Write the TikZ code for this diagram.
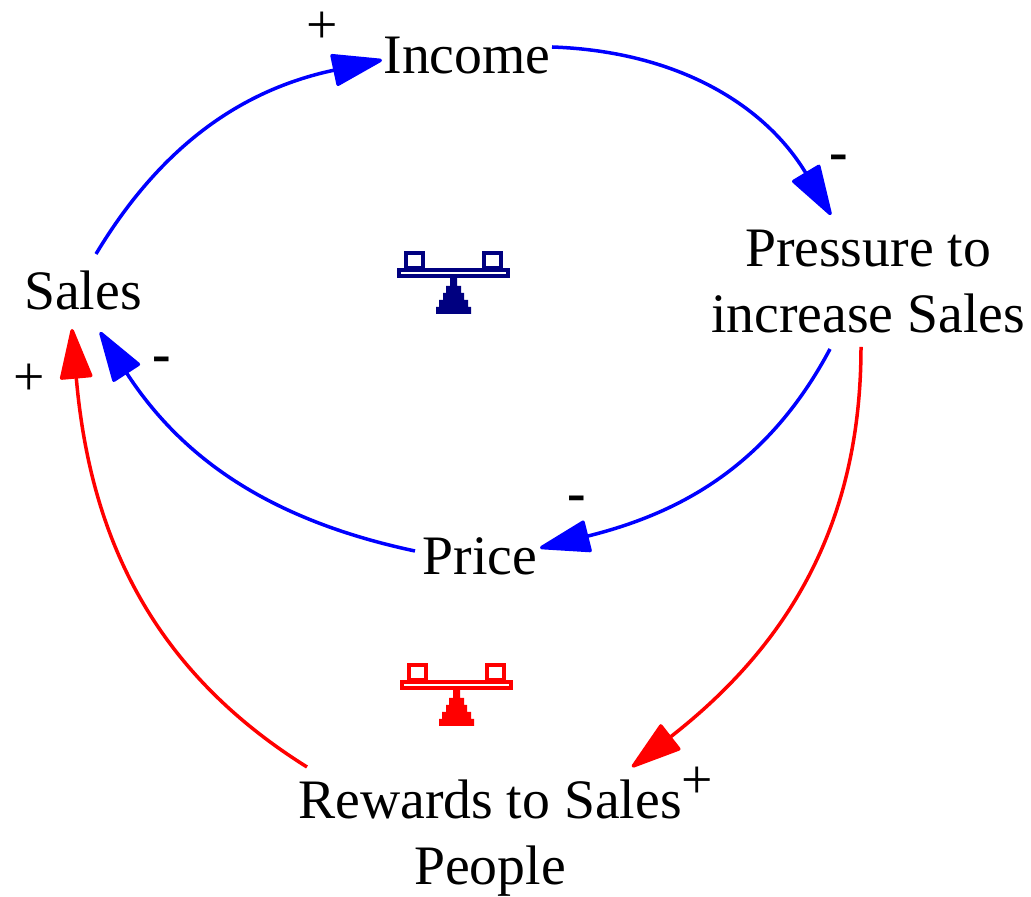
\documentclass[tikz,border=0pt]{standalone}
\usepackage{fontspec}
\setmainfont{Liberation Serif}
\usetikzlibrary{positioning, arrows.meta, calc}
\definecolor{myBlue}{RGB}{0,0,255}
\definecolor{myRed}{RGB}{255,0,0}
\definecolor{myNavy}{RGB}{0,0,128}

\begin{document}
\begin{tikzpicture}[
  x=0.02cm, y=0.02cm,
  var/.style={font=\fontsize{31.7}{37.6}\selectfont, align=center, inner sep=0pt},
  sign/.style={font=\fontsize{31.7}{37.6}\selectfont, inner sep=0pt},
  minus/.style={font=\fontsize{31.7}{37.6}\selectfont\bfseries, inner sep=0pt},
  link/.style={line width=0.07cm, -{Triangle[length=1.08cm, width=0.66cm, round]}},
]
  \useasboundingbox (0,0) rectangle (1031,896);

  % variables
  \node[var] (income)   at (467,840) {Income};
  \node[var] (pressure) at (868,614) {Pressure to\\increase Sales};
  \node[var] (sales)    at (83,606)  {Sales};
  \node[var] (price)    at (480,340) {Price};
  \node[var] (rewards)  at (490,58)  {Rewards to Sales\\People};

  % blue loop
  \draw[link, myBlue] ($(sales)+(13,36)$) to[out=59, in=192] ($(income)+(-85,-4)$);
  \draw[link, myBlue] ($(income)+(85,9)$) to[out=-2, in=121] ($(pressure)+(-37,67)$);
  \draw[link, myBlue] ($(pressure)+(-38,-67)$) to[out=-118, in=14] ($(price)+(60,8)$);
  \draw[link, myBlue] ($(price)+(-65,5)$) to[out=168, in=-57] ($(sales)+(17,-42)$);

  % red loop
  \draw[link, myRed] ($(pressure)+(-7,-65)$) to[out=-90, in=38] ($(rewards)+(142,71)$);
  \draw[link, myRed] ($(rewards)+(-183,71)$) to[out=148, in=-85] ($(sales)+(-11,-39)$);

  % signs
  \node[sign]  (s1) at (322,868) {+};
  \node[minus] (s2) at (839,733) {-};
  \node[minus] (s3) at (577,392) {-};
  \node[minus] (s4) at (162,531) {-};
  \node[sign]  (s5) at (29,516)  {+};
  \node[sign]  (s6) at (697,113) {+};

  % balance icons
  \foreach \bx/\by/\bcol in {0/0/myNavy, 3/-412/myRed} {
    \begin{scope}[shift={(\bx,\by)}, draw=\bcol, fill=\bcol]
      \draw[line width=0.08cm] (399,620) rectangle (508,626);
      \draw[line width=0.08cm] (406,628) rectangle (423,643);
      \draw[line width=0.08cm] (484,628) rectangle (501,643);
      \fill (450,618) rectangle (457,610)
            (446,610) rectangle (461,603)
            (443,603) rectangle (464,596)
            (439,596) rectangle (468,589)
            (436,589) rectangle (471,582);
    \end{scope}
  }
\end{tikzpicture}
\end{document}
